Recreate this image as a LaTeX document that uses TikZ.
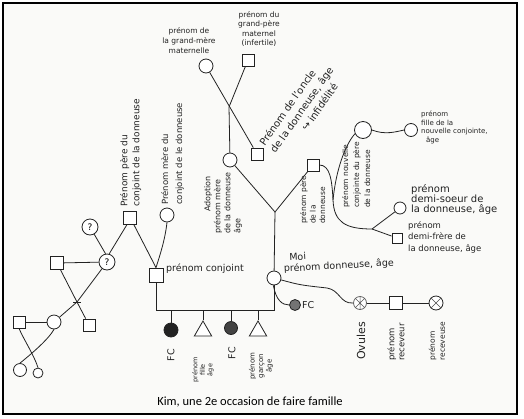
\documentclass[tikz,border=0pt]{standalone}
\usepackage{fontspec}
\setmainfont{DejaVu Sans}
\newfontfamily\capfont{Carlito}
\usetikzlibrary{shapes.geometric}
\definecolor{ink}{HTML}{222222}
\definecolor{paper}{HTML}{FAFAF8}
\newcommand\hsz[2]{\fontsize{#1}{#2}\selectfont}
\begin{document}
\begin{tikzpicture}[x=1pt,y=-1pt,
  ln/.style={draw=ink, line width=0.8pt},
  mal/.style={ln, rectangle, minimum size=12pt, inner sep=0pt, fill=white},
  fem/.style={ln, circle, minimum size=14pt, inner sep=0pt, fill=white},
  tri/.style={ln, regular polygon, regular polygon sides=3, minimum size=20pt, inner sep=0pt, fill=white},
  lbl/.style={inner sep=0pt, align=left, text=ink},
]
\useasboundingbox (0,0) rectangle (524,418);
\draw[line width=1.3pt, fill=paper] (3,3) rectangle (517,414);

% maternal grandparents
\node[fem] (gm) at (206,66) {};
\node[mal] (gp) at (248,60) {};
\node[lbl,align=center,font=\hsz{7.5}{10}] (gmL) at (189,41) {prénom de\\la grand-mère\\maternelle};
\node[lbl,align=center,font=\hsz{7.5}{9.3}] (gpL) at (259,29) {prénom du\\grand-père\\maternel\\(infertile)};
\node[fem] (mere) at (230,160) {};
\node[mal] (oncle) at (257,154) {};
\coordinate (xg) at (229,107);
\draw[ln] (gm) -- (oncle);
\draw[ln] (gp) -- (xg) -- (mere);
\node[lbl,rotate=55,anchor=north west,font=\hsz{10}{13}] (oncleL) at (258,142) {Prénom de l'oncle\\de la donneuse, âge\\\hspace*{36pt}↪ infidélité};
\node[lbl,rotate=90,anchor=north west,font=\hsz{8}{10}] (mereL) at (204,234) {\hspace*{22pt}Adoption\\prénom mère\\de la donneuse\\âge};

% father and Y
\node[mal] (pere) at (313,165) {};
\node[lbl,rotate=90,anchor=north west,font=\hsz{7.5}{9.5}] (pereL) at (300,224) {prénom père\\de la\\donneuse};
\coordinate (yj) at (275,212);
\draw[ln] (mere) -- (yj) -- (pere);
\node[fem] (moi) at (274,278) {};
\draw[ln] (yj) -- (moi);
\node[lbl,rotate=3,anchor=south west,font=\hsz{9.5}{11}] (moiL) at (284,274) {\hspace*{6pt}Moi\\prénom donneuse, âge};

% conjoint
\node[mal,minimum size=14pt] (conj) at (156,275) {};
\node[lbl,anchor=west,font=\hsz{9.5}{11}] (conjL) at (166,269) {prénom conjoint};
\coordinate (bl) at (156,310);
\coordinate (br) at (274,310);
\draw[ln] (conj) -- (bl) -- (br) -- (moi);

% children
\node[fem,fill=ink,minimum size=14pt] (fc1) at (171,330) {};
\node[tri] (fille) at (203,331) {};
\node[fem,fill=ink!85,minimum size=13pt] (fc2) at (231,328) {};
\node[tri] (garcon) at (258,331) {};
\draw[ln] (fc1) -- (fc1 |- bl);
\draw[ln] (fille.north) -- (fille.north |- bl);
\draw[ln] (fc2) -- (fc2 |- bl);
\draw[ln] (garcon.north) -- (garcon.north |- bl);
\node[lbl,rotate=90,font=\hsz{9.5}{10}] (fc1L) at (171,355) {FC};
\node[lbl,rotate=90,align=center,font=\hsz{6.5}{7.5}] (filleL) at (203,370) {prénom\\fille\\âge};
\node[lbl,rotate=90,font=\hsz{9.5}{10}] (fc2L) at (232,353) {FC};
\node[lbl,rotate=90,align=center,font=\hsz{7}{8.5}] (garconL) at (261,366) {prénom\\garçon\\âge};

% conjoint's parents
\node[mal,minimum size=13pt] (pc) at (130,218) {};
\node[fem] (mc) at (167,215) {};
\draw[ln] (pc.300) -- (conj.north);
\draw[ln] (mc.south) .. controls (165,240) and (160,255) .. (conj.north);
\node[lbl,rotate=90,anchor=north west,font=\hsz{9}{12}] (pcL) at (120,207) {Prénom père du\\conjoint de la donneuse};
\node[lbl,rotate=90,anchor=north west,font=\hsz{8.5}{14}] (mcL) at (161,205) {Prénom mère du\\conjoint de le donneuse};

% left branch
\node[fem,minimum size=16pt,font=\hsz{9}{10}] (q1) at (90,227) {?};
\node[fem,minimum size=16pt,font=\hsz{9}{10}] (q2) at (107,262) {?};
\draw[ln] (q1) -- (q2.100);
\draw[ln] (pc.245) -- (q2.75);
\node[mal,minimum size=13pt] (lsq) at (57,263) {};
\draw[ln] (lsq) -- (q2);
\coordinate (jx) at (77,302);
\coordinate (jl) at (73,302);
\coordinate (jr) at (81,302);
\node[fem] (c2) at (54,322) {};
\node[mal] (ssq) at (89,325) {};
\draw[ln] (lsq) -- (jx) -- (ssq);
\draw[ln] (q2) -- (jx) -- (c2);
\draw[ln] (jl) -- (jr);
\node[mal] (sq3) at (19,322) {};
\draw[ln] (sq3) -- (c2);
\node[fem,minimum size=13pt] (c3) at (20,370) {};
\node[fem,minimum size=10pt] (c4) at (38,373) {};
\draw[ln] (sq3.south) .. controls (24,340) and (34,355) .. (c4.north);
\draw[ln] (c2.south) .. controls (48,340) and (30,355) .. (c3.north);

% donation
\node[fem,draw=black!60,minimum size=13pt] (ov) at (360,303) {};
\draw[draw=black!65,line width=0.5pt] (ov.45) -- (ov.225) (ov.135) -- (ov.315) (ov.north) -- (ov.south);
\node[mal,minimum size=13pt] (rec) at (396,303) {};
\node[fem] (rcv) at (436,303) {};
\draw[draw=black!70,line width=0.6pt] (rcv.45) -- (rcv.225) (rcv.135) -- (rcv.315);
\draw[ln] (ov) -- (rec) -- (rcv);
\draw[ln] (moi.-15) .. controls (300,285) .. (327,288) .. controls (340,290) and (340,304) .. (ov.west);
\node[fem,minimum size=11pt,fill=black!55] (fc3) at (295,305) {};
\draw[ln] (moi.-95) .. controls (276,300) and (282,305) .. (fc3.west);
\node[lbl,anchor=west,font=\hsz{9.5}{10}] (fc3L) at (302,305) {FC};
\node[lbl,rotate=90,font=\hsz{11}{12}] (ovL) at (361,341) {Ovules};
\node[lbl,rotate=90,font=\hsz{8.5}{10}] (recL) at (396,342) {prénom\\receveur};
\node[lbl,rotate=90,font=\hsz{7.5}{10}] (rcvL) at (437,341) {prénom\\receveuse};

% half siblings
\node[fem,minimum size=17pt] (nc) at (363,130) {};
\node[fem,minimum size=13pt] (dc) at (411,130) {};
\node[fem,minimum size=12pt] (ds) at (400,208) {};
\node[mal,minimum size=10pt] (df) at (397,238) {};
\coordinate (hj) at (372,229);
\draw[ln] (pere.east) .. controls (330,165) and (332,180) .. (333,200) .. controls (334,222) and (345,229) .. (hj);
\draw[ln] (nc.205) .. controls (345,145) and (336,170) .. (333,200);
\draw[ln] (hj) -- (ds);
\draw[ln] (hj) -- (df);
\draw[ln] (nc.east) .. controls (385,135) and (395,132) .. (dc.west);
\node[lbl,rotate=90,anchor=north west,font=\hsz{7.5}{11}] (ncL) at (342,208) {prénom nouvelle\\conjointe du père\\de la donneuse};
\node[lbl,anchor=north west,font=\hsz{7}{8.5}] (dcL) at (421,111) {prénom\\fille de la\\nouvelle conjointe,\\\hspace*{5pt}âge};
\node[lbl,anchor=north west,font=\hsz{10}{10}] (dsL) at (411,184) {prénom\\demi-soeur de\\la donneuse, âge};
\node[lbl,anchor=north west,font=\hsz{8.5}{11.5}] (dfL) at (408,221) {prénom\\demi-frère de\\la donneuse, âge};

% caption
\node[font=\capfont\hsz{12.5}{14}, text=black] (cap) at (250,402) {Kim, une 2e occasion de faire famille};
\end{tikzpicture}
\end{document}
